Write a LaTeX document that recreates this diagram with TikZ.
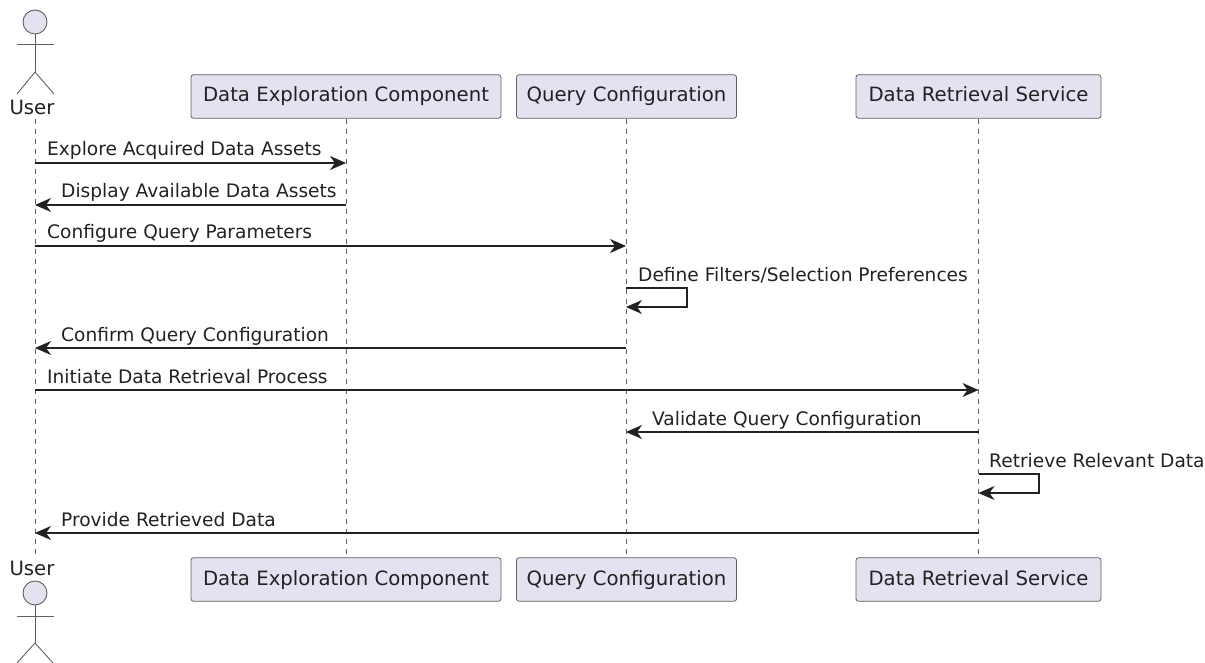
\documentclass[tikz,border=0pt]{standalone}
\usepackage{fontspec}
\setmainfont{DejaVu Sans}
\usetikzlibrary{arrows.meta}
\definecolor{partfill}{HTML}{E2E2F0}
\definecolor{partline}{HTML}{5F5F5F}
\definecolor{inkdark}{HTML}{222222}
\tikzset{
  part/.style={draw=partline,fill=partfill,rounded corners=2.5pt,line width=0.8pt,inner sep=0pt,
    minimum height=43.5pt,text height=15pt,text depth=4pt,text=inkdark,font=\fontsize{19.7}{22}\selectfont},
  actorline/.style={draw=partline,line width=0.9pt},
  actorhead/.style={circle,draw=partline,fill=partfill,line width=0.9pt,minimum size=24pt,inner sep=0pt},
  lifeline/.style={draw=partline,line width=0.7pt,dash pattern=on 5pt off 5pt},
  msg/.style={draw=inkdark,line width=1.1pt,-{Stealth[length=16pt,width=14pt,inset=5pt]}},
  msgtext/.style={anchor=base west,inner sep=0pt,text=inkdark,font=\fontsize{18.6}{21}\selectfont},
  actortext/.style={anchor=base,inner sep=0pt,text=inkdark,font=\fontsize{19.7}{22}\selectfont},
}
\begin{document}
\begin{tikzpicture}[x=1pt,y=-1pt]

\useasboundingbox (0,0) rectangle (1205,663);

% participants
\node[part,minimum width=310pt] (d1) at (346,96.5) {Data Exploration Component};
\node[part,minimum width=220pt] (q1) at (626.5,96.5) {Query Configuration};
\node[part,minimum width=245pt] (r1) at (978.5,96.5) {Data Retrieval Service};
\node[part,minimum width=310pt] (d2) at (346,579.5) {Data Exploration Component};
\node[part,minimum width=220pt] (q2) at (626.5,579.5) {Query Configuration};
\node[part,minimum width=245pt] (r2) at (978.5,579.5) {Data Retrieval Service};

% actor
\node[actortext] (u1) at (32,115) {User};
\node[actortext] (u2) at (32,575) {User};
\node[actorhead] (h1) at (35,22) {};
\node[actorhead] (h2) at (35,593) {};
\coordinate (b1) at (35,72);
\coordinate (b2) at (35,643);
\draw[actorline] (h1) -- (b1);
\draw[actorline] (h2) -- (b2);
\draw[actorline] (17,44.5) -- (54,44.5);
\draw[actorline] (17,616) -- (54,616);
\draw[actorline] (17,94) -- (b1) -- (54,94);
\draw[actorline] (17,663) -- (b2) -- (53,663);

% lifelines
\coordinate (ut) at (35,119);
\coordinate (ub) at (35,556);
\draw[lifeline] (ut) -- (ub);
\draw[lifeline] (d1) -- (d2);
\draw[lifeline] (q1) -- (q2);
\draw[lifeline] (r1) -- (r2);

% message ends
\coordinate (m1a) at (35,163);     \coordinate (m1b) at (346,163);
\coordinate (m2a) at (346,205);    \coordinate (m2b) at (35,205);
\coordinate (m3a) at (35,246);     \coordinate (m3b) at (626,246);
\coordinate (m4a) at (626,288);    \coordinate (m4b) at (687,288);
\coordinate (m4c) at (687,307);    \coordinate (m4d) at (626,307);
\coordinate (m5a) at (626,348);    \coordinate (m5b) at (35,348);
\coordinate (m6a) at (35,390);     \coordinate (m6b) at (978.5,390);
\coordinate (m7a) at (978.5,432);  \coordinate (m7b) at (626,432);
\coordinate (m8a) at (978.5,474);  \coordinate (m8b) at (1039,474);
\coordinate (m8c) at (1039,493);   \coordinate (m8d) at (978.5,493);
\coordinate (m9a) at (978.5,533);  \coordinate (m9b) at (35,533);

\draw[msg] (m1a) -- (m1b);
\draw[msg] (m2a) -- (m2b);
\draw[msg] (m3a) -- (m3b);
\draw[msg] (m4a) -- (m4b) -- (m4c) -- (m4d);
\draw[msg] (m5a) -- (m5b);
\draw[msg] (m6a) -- (m6b);
\draw[msg] (m7a) -- (m7b);
\draw[msg] (m8a) -- (m8b) -- (m8c) -- (m8d);
\draw[msg] (m9a) -- (m9b);

% message labels
\node[msgtext] (t1) at (47,156) {Explore Acquired Data Assets};
\node[msgtext] (t2) at (61,198) {Display Available Data Assets};
\node[msgtext] (t3) at (47,239) {Configure Query Parameters};
\node[msgtext] (t4) at (638,281) {Define Filters/Selection Preferences};
\node[msgtext] (t5) at (61,341) {Confirm Query Configuration};
\node[msgtext] (t6) at (47,383) {Initiate Data Retrieval Process};
\node[msgtext] (t7) at (652,425) {Validate Query Configuration};
\node[msgtext] (t8) at (989,467) {Retrieve Relevant Data};
\node[msgtext] (t9) at (61,526) {Provide Retrieved Data};

\end{tikzpicture}
\end{document}
